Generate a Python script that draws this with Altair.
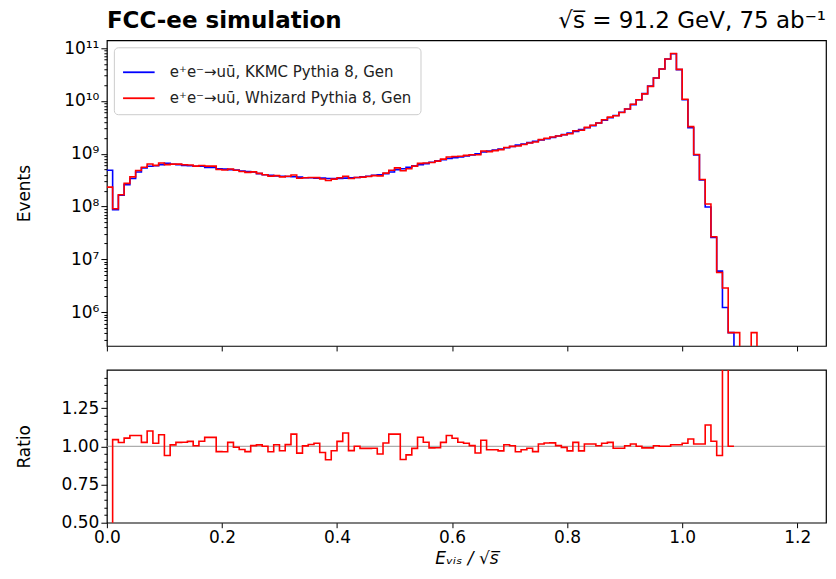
import altair as alt
import numpy as np
import pandas as pd

# ---------------- data ----------------
bin_width = 0.01
n_bins = 125

label_kkmc = "e⁺e⁻→uū, KKMC Pythia 8, Gen"
label_whiz = "e⁺e⁻→uū, Whizard Pythia 8, Gen"

kkmc = [
    4.85e8, 8.7e7, 1.63e8, 2.6e8, 3.4e8, 4.5e8, 5.4e8, 5.8e8, 5.9e8, 6.2e8,
    6.6e8, 6.3e8, 6.2e8, 6.0e8, 5.9e8, 5.8e8, 5.8e8, 5.5e8, 5.5e8, 5.2e8,
    5.1e8, 5.0e8, 4.9e8, 4.7e8, 4.6e8, 4.5e8, 4.2e8, 4.0e8, 3.9e8, 3.8e8,
    3.75e8, 3.7e8, 3.65e8, 3.6e8, 3.5e8, 3.5e8, 3.45e8, 3.45e8, 3.4e8, 3.4e8,
    3.4e8, 3.45e8, 3.5e8, 3.55e8, 3.65e8, 3.75e8, 3.9e8, 4.0e8, 4.2e8, 4.5e8,
    5.0e8, 5.2e8, 5.5e8, 5.9e8, 6.2e8, 6.5e8, 6.9e8, 7.3e8, 7.7e8, 8.1e8,
    8.4e8, 8.7e8, 9.1e8, 9.5e8, 1.0e9, 1.08e9, 1.12e9, 1.17e9, 1.23e9, 1.3e9,
    1.37e9, 1.45e9, 1.53e9, 1.62e9, 1.72e9, 1.82e9, 1.92e9, 2.03e9, 2.16e9, 2.3e9,
    2.46e9, 2.65e9, 2.87e9, 3.1e9, 3.4e9, 3.8e9, 4.3e9, 4.8e9, 5.3e9, 6.1e9,
    7.0e9, 8.5e9, 1.05e10, 1.37e10, 1.9e10, 2.7e10, 4.0e10, 6.2e10, 7.8e10, 3.9e10,
    1.05e10, 3.1e9, 9.5e8, 3.2e8, 9.8e7, 2.6e7, 6.0e6, 1.23e6, 4.1e5,
    0, 0, 0, 0, 0, 0, 0, 0, 0, 0, 0, 0, 0, 0, 0, 0,
]

whizard = [
    2.33e8, 9.08e7, 1.67e8, 2.74e8, 3.64e8, 4.82e8, 5.54e8, 6.38e8, 6.02e8, 6.67e8,
    6.20e8, 6.36e8, 6.36e8, 6.16e8, 6.09e8, 5.82e8, 5.99e8, 5.82e8, 5.82e8, 5.02e8,
    4.92e8, 5.13e8, 4.87e8, 4.60e8, 4.44e8, 4.52e8, 4.24e8, 4.00e8, 3.76e8, 3.84e8,
    3.64e8, 3.74e8, 3.94e8, 3.44e8, 3.51e8, 3.54e8, 3.52e8, 3.31e8, 3.10e8, 3.30e8,
    3.51e8, 3.75e8, 3.40e8, 3.55e8, 3.60e8, 3.70e8, 3.85e8, 3.80e8, 4.29e8, 4.86e8,
    5.40e8, 4.75e8, 5.19e8, 5.82e8, 6.57e8, 6.67e8, 6.83e8, 7.23e8, 7.90e8, 8.67e8,
    8.84e8, 8.93e8, 9.28e8, 9.54e8, 9.56e8, 1.123e9, 1.095e9, 1.144e9, 1.193e9, 1.313e9,
    1.375e9, 1.399e9, 1.496e9, 1.599e9, 1.660e9, 1.847e9, 1.962e9, 2.075e9, 2.169e9, 2.284e9,
    2.386e9, 2.719e9, 2.784e9, 3.147e9, 3.451e9, 3.815e9, 4.386e9, 4.925e9, 5.231e9, 6.021e9,
    7.028e9, 8.628e9, 1.050e10, 1.356e10, 1.881e10, 2.711e10, 4.000e10, 6.200e10, 7.878e10, 3.939e10,
    1.071e10, 3.249e9, 9.643e8, 3.248e8, 1.117e8, 2.686e7, 5.64e6, 2.87e6, 4.1e5,
    4.1e5, 0, 0, 4.1e5, 0, 0, 0, 0, 0, 0, 0, 0, 0, 0, 0, 0,
]

x_ticks = [0.0, 0.2, 0.4, 0.6, 0.8, 1.0, 1.2]
ratio_major = [0.5, 0.75, 1.0, 1.25]
title_left = "FCC-ee simulation"
title_right = "√s̅ = 91.2 GeV, 75 ab⁻¹"

# ---------------- build tables ----------------
edges = [round(i * bin_width, 2) for i in range(n_bins + 1)]
FLOOR = 1e3  # empty bins drawn below the visible range (clipped)

rows = []
for name, vals in [(label_kkmc, kkmc), (label_whiz, whizard)]:
    for i, v in enumerate(vals):
        rows.append({"x": edges[i], "events": v if v > 0 else FLOOR, "series": name})
    last = vals[-1]
    rows.append({"x": edges[-1], "events": last if last > 0 else FLOOR, "series": name})
df_top = pd.DataFrame(rows)

rrows = []
last_i = None
for i, (k, w) in enumerate(zip(kkmc, whizard)):
    if k > 0:
        rrows.append({"x": edges[i], "ratio": w / k})
        last_i = i
rrows.append({"x": edges[last_i + 1], "ratio": whizard[last_i] / kkmc[last_i]})
df_ratio = pd.DataFrame(rrows)
df_one = pd.DataFrame({"y": [1.0]})

# tick values
log_ticks = []
for e in range(5, 12):
    for m in range(1, 10):
        v = float(f"{m}e{e}")
        if 2.3e5 <= v <= 1.4e11:
            log_ticks.append(v)
sup = {5: "⁵", 6: "⁶", 7: "⁷", 8: "⁸", 9: "⁹", 10: "¹⁰", 11: "¹¹"}
log_label_expr = " : ".join(
    [f"datum.value == 1e{e} ? '10{s}'" for e, s in sup.items()]
) + " : ''"
ratio_ticks = [round(0.5 + 0.05 * k, 2) for k in range(0, 20)]
major_list = "[" + ", ".join(str(v) for v in ratio_major) + "]"

FONT = "DejaVu Sans"
LBL = 17
xscale = alt.Scale(domain=[0, 1.25], nice=False, zero=False)
W = 720

# ---------------- top panel ----------------
color = alt.Color(
    "series:N",
    scale=alt.Scale(domain=[label_kkmc, label_whiz], range=["#0000ff", "#ff0000"]),
    legend=alt.Legend(
        title=None, orient="top-left", offset=7, padding=8,
        fillColor="white", strokeColor="#cccccc", cornerRadius=4,
        symbolType="stroke", symbolSize=1000, symbolStrokeWidth=1.8,
        labelFont=FONT, labelFontSize=15, labelColor="#222222", labelLimit=500,
        rowPadding=1, labelOffset=14,
    ),
)
x_top = alt.X("x:Q", scale=xscale,
              axis=alt.Axis(values=x_ticks, labels=False, title=None, tickSize=5))
y_top = alt.Y(
    "events:Q",
    scale=alt.Scale(type="log", domain=[2.3e5, 1.4e11], nice=False),
    axis=alt.Axis(
        values=log_ticks, labelExpr=log_label_expr, title="Events",
        tickSize={"condition": {"test": "abs(log(datum.value)/LN10 - round(log(datum.value)/LN10)) < 0.001", "value": 6}, "value": 3},
        labelFontSize=LBL, titleFontSize=LBL, titleFontWeight="normal",
        minExtent=62, maxExtent=62, titlePadding=11,
    ),
)

base = alt.Chart(df_top)
blue = base.transform_filter(alt.datum.series == label_kkmc).mark_line(
    interpolate="step-after", clip=True, strokeWidth=1.6
).encode(x=x_top, y=y_top, color=color)
red = base.transform_filter(alt.datum.series == label_whiz).mark_line(
    interpolate="step-after", clip=True, strokeWidth=1.6
).encode(x=x_top, y=y_top, color=color)

left_text = alt.Chart(pd.DataFrame({"t": [title_left]})).mark_text(
    align="left", baseline="alphabetic", font=FONT, fontSize=23, fontWeight="bold", color="black"
).encode(x=alt.value(0), y=alt.value(-12), text="t:N")
right_text = alt.Chart(pd.DataFrame({"t": [title_right]})).mark_text(
    align="right", baseline="alphabetic", font=FONT, fontSize=23, color="black"
).encode(x=alt.value(W), y=alt.value(-12), text="t:N")

top = alt.layer(blue, red, left_text, right_text).properties(width=W, height=306)

# ---------------- ratio panel ----------------
x_bot = alt.X(
    "x:Q", scale=xscale,
    axis=alt.Axis(
        values=x_ticks, format=".1f", title="Eᵥᵢₛ / √s̅", tickSize=5, labelFlush=False,
        labelFontSize=LBL, titleFontSize=LBL, titleFontWeight="normal",
        titleFontStyle="italic", titlePadding=5,
    ),
)
y_scale_r = alt.Scale(domain=[0.5, 1.5], nice=False, zero=False)
y_axis_r = alt.Axis(
    values=ratio_ticks,
    labelExpr=f"indexof({major_list}, datum.value) >= 0 ? format(datum.value, '.2f') : ''",
    title="Ratio",
    tickSize={"condition": {"test": f"indexof({major_list}, datum.value) >= 0", "value": 6}, "value": 3},
    labelFontSize=LBL, titleFontSize=LBL, titleFontWeight="normal",
    minExtent=62, maxExtent=62, titlePadding=11,
)
one_line = alt.Chart(df_one).mark_rule(color="#999999", strokeWidth=1).encode(
    y=alt.Y("y:Q", scale=y_scale_r, axis=y_axis_r)
)
ratio_line = alt.Chart(df_ratio).mark_line(
    interpolate="step-after", clip=True, strokeWidth=1.6, color="#ff0000"
).encode(x=x_bot, y=alt.Y("ratio:Q", scale=y_scale_r, axis=y_axis_r))

bottom = alt.layer(one_line, ratio_line).properties(width=W, height=153)

chart = alt.vconcat(top, bottom, spacing=16).properties(
    padding={"left": 7, "top": 1, "right": 0, "bottom": 0}
).configure_view(stroke="black", strokeWidth=1.2).configure_axis(
    labelFont=FONT, titleFont=FONT, labelColor="black", titleColor="black",
    tickColor="black", grid=False, domain=False,
)

chart.save("out.html", embed_options={"renderer": "svg", "actions": False})
